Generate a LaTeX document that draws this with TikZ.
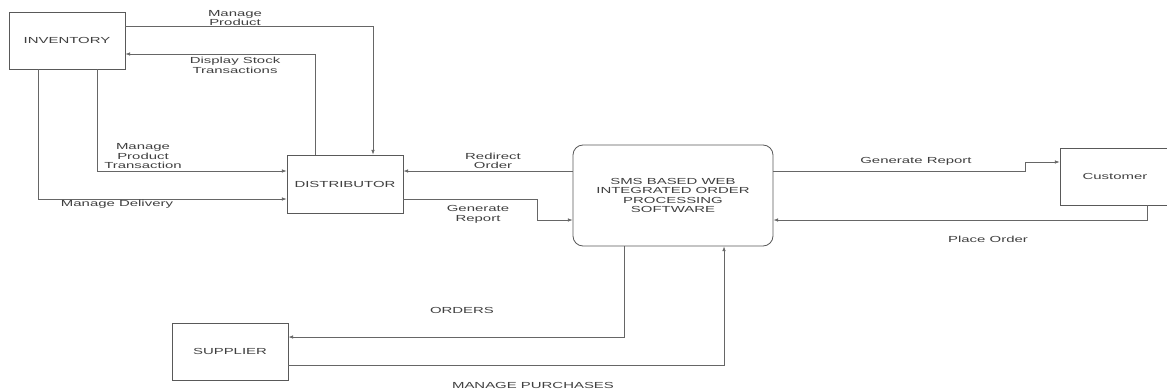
\documentclass[tikz,border=0pt]{standalone}
\usepackage{fontspec}
\setmainfont{Liberation Sans}[FakeStretch=1.7]
\usetikzlibrary{calc,arrows.meta}

\begin{document}
\begin{tikzpicture}[x=0.03cm,y=-0.03cm,font=\fontsize{7.5}{8.1}\selectfont,text=black!75,
    entity/.style args={#1,#2}{draw=black!65,line width=0.7pt,minimum width=#1*0.03cm,minimum height=#2*0.03cm,inner sep=0pt,align=center},
    flow/.style={draw=black!60,line width=0.6pt,-{Latex[length=4pt,width=3pt]}},
    lbl/.style={align=center}]
    \useasboundingbox (0,0) rectangle (1167,391);

    % Entities:
    \node [entity={116,57}] (inv) at (67,40.5) {INVENTORY};
    \node [entity={116,58}] (dist) at (345,184) {DISTRIBUTOR};
    \node [entity={200,101},rounded corners=0.3cm] (sms) at (673,195.5) {SMS BASED WEB\\INTEGRATED ORDER\\PROCESSING\\SOFTWARE};
    \node [entity={110,57}] (cust) at (1115,176.5) {Customer};
    \node [entity={116,57}] (sup) at (230,351.5) {SUPPLIER};

    % Inventory <-> distributor:
    \draw [flow] ($(inv.east)+(0,-14.5)$) -| ($(dist.north)+(28,0)$);
    \draw [flow] ($(dist.north)+(-30,0)$) |- ($(inv.east)+(0,13.5)$);
    \draw [flow] ($(inv.south)+(30,0)$) |- ($(dist.west)+(0,-13)$);
    \draw [flow] ($(inv.south)+(-29,0)$) |- ($(dist.west)+(0,15)$);

    % Distributor <-> software:
    \draw [flow] ($(sms.west)+(0,-24.5)$) -- ($(dist.east)+(0,-13)$);
    \draw [flow] ($(dist.east)+(0,15)$) -- ++(134,0) |- ($(sms.west)+(0,24.5)$);

    % Software <-> customer:
    \draw [flow] ($(sms.east)+(0,-24.5)$) -- ++(252,0) |- ($(cust.west)+(0,-14.5)$);
    \draw [flow] ($(cust.south)+(32,0)$) |- ($(sms.east)+(0,24.5)$);

    % Software <-> supplier:
    \draw [flow] ($(sms.south)+(-49,0)$) |- ($(sup.east)+(0,-14.5)$);
    \draw [flow] ($(sup.east)+(0,13.5)$) -| ($(sms.south)+(51,0)$);

    % Flow labels:
    \node [lbl] at (235,18) {Manage\\Product};
    \node [lbl] at (235,65.5) {Display Stock\\Transactions};
    \node [lbl] at (143,156.5) {Manage\\Product\\Transaction};
    \node [lbl] at (117,204) {Manage Delivery};
    \node [lbl] at (493,161) {Redirect\\Order};
    \node [lbl] at (478,214.5) {Generate\\Report};
    \node [lbl] at (916,161) {Generate Report};
    \node [lbl] at (988,239) {Place Order};
    \node [lbl] at (462,310) {ORDERS};
    \node [lbl] at (533,385) {MANAGE PURCHASES};
\end{tikzpicture}
\end{document}
